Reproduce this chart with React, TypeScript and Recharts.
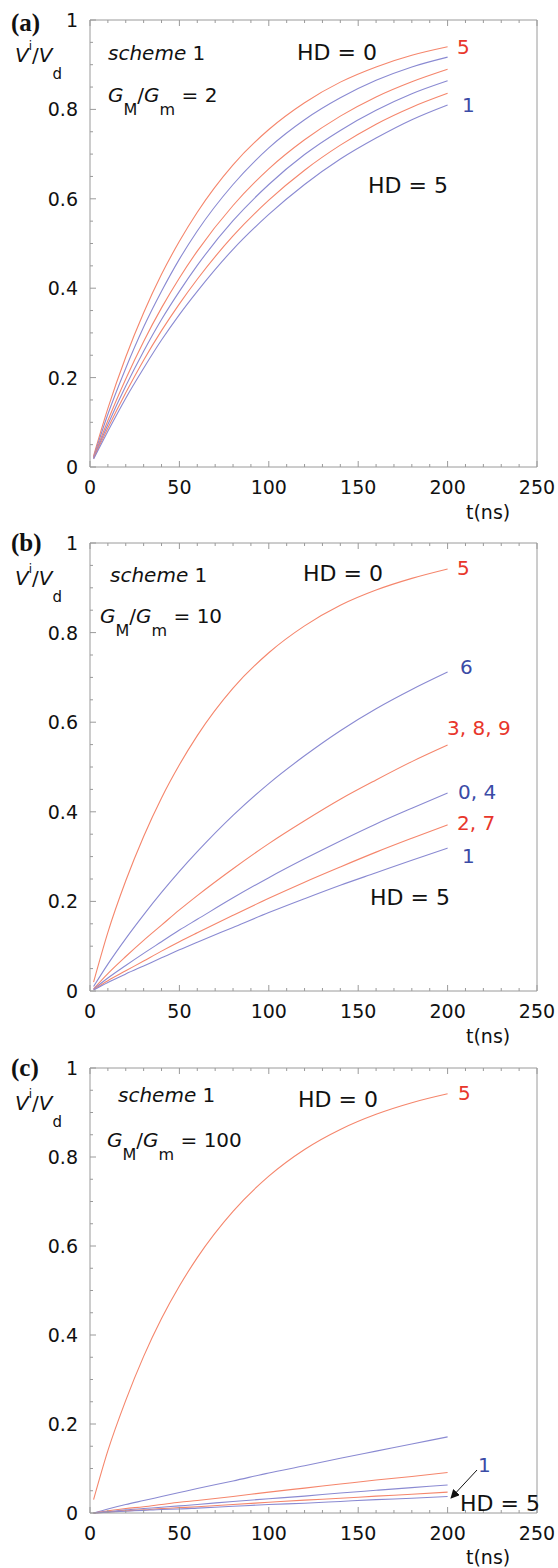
import React from "react";
import { LineChart, Line, XAxis, YAxis } from "recharts";

// time grid (ns) shared by every curve
const times = [2, 10, 20, 30, 40, 50, 60, 80, 100, 120, 140, 160, 180, 200];

const xTicks = [0, 10, 20, 30, 40, 50, 60, 70, 80, 90, 100, 110, 120, 130, 140, 150, 160, 170, 180, 190, 200, 210, 220, 230, 240, 250];
const yTicks = [0, 0.05, 0.1, 0.15, 0.2, 0.25, 0.3, 0.35, 0.4, 0.45, 0.5, 0.55, 0.6, 0.65, 0.7, 0.75, 0.8, 0.85, 0.9, 0.95, 1];
const yTickLabels: Record<string, string> = { "0": "0", "0.2": "0.2", "0.4": "0.4", "0.6": "0.6", "0.8": "0.8", "1": "1" };

// (a) GM/Gm = 2
const a1 = [0.025, 0.131, 0.246, 0.345, 0.431, 0.505, 0.57, 0.676, 0.755, 0.815, 0.861, 0.895, 0.921, 0.94];
const a2 = [0.022, 0.118, 0.221, 0.313, 0.393, 0.465, 0.528, 0.632, 0.714, 0.777, 0.826, 0.865, 0.895, 0.917];
const a3 = [0.021, 0.104, 0.197, 0.281, 0.356, 0.423, 0.483, 0.585, 0.667, 0.732, 0.785, 0.828, 0.862, 0.89];
const a4 = [0.02, 0.095, 0.181, 0.259, 0.33, 0.393, 0.451, 0.551, 0.632, 0.699, 0.753, 0.798, 0.835, 0.864];
const a5 = [0.019, 0.087, 0.166, 0.239, 0.305, 0.365, 0.42, 0.517, 0.597, 0.664, 0.72, 0.767, 0.805, 0.836];
const a6 = [0.018, 0.08, 0.154, 0.221, 0.284, 0.341, 0.393, 0.487, 0.565, 0.632, 0.689, 0.736, 0.777, 0.81];

// (b) GM/Gm = 10
const b5 = [0.02, 0.131, 0.246, 0.345, 0.431, 0.505, 0.57, 0.676, 0.755, 0.815, 0.861, 0.895, 0.921, 0.942];
const b6 = [0.01, 0.06, 0.117, 0.17, 0.22, 0.267, 0.311, 0.392, 0.463, 0.525, 0.581, 0.63, 0.673, 0.712];
const b389 = [0.005, 0.039, 0.077, 0.113, 0.147, 0.181, 0.213, 0.273, 0.329, 0.38, 0.428, 0.471, 0.512, 0.549];
const b04 = [0.004, 0.029, 0.057, 0.084, 0.11, 0.136, 0.16, 0.208, 0.253, 0.295, 0.335, 0.373, 0.408, 0.442];
const b27 = [0.003, 0.023, 0.045, 0.067, 0.089, 0.11, 0.13, 0.169, 0.207, 0.243, 0.277, 0.31, 0.341, 0.371];
const b1 = [0.002, 0.019, 0.038, 0.056, 0.074, 0.092, 0.109, 0.142, 0.175, 0.206, 0.236, 0.264, 0.292, 0.319];

// (c) GM/Gm = 100
const c1 = [0.03, 0.14, 0.253, 0.352, 0.437, 0.51, 0.574, 0.678, 0.757, 0.817, 0.862, 0.896, 0.922, 0.942];
const c2 = [0, 0.009, 0.019, 0.028, 0.037, 0.046, 0.055, 0.072, 0.09, 0.106, 0.123, 0.139, 0.155, 0.171];
const c3 = [0, 0.005, 0.01, 0.014, 0.019, 0.024, 0.028, 0.037, 0.047, 0.056, 0.065, 0.074, 0.082, 0.091];
const c4 = [0, 0.003, 0.007, 0.01, 0.013, 0.016, 0.019, 0.026, 0.032, 0.038, 0.045, 0.051, 0.057, 0.063];
const c5 = [0, 0.002, 0.005, 0.007, 0.01, 0.012, 0.014, 0.019, 0.024, 0.029, 0.033, 0.038, 0.042, 0.047];
const c6 = [0, 0.002, 0.004, 0.006, 0.008, 0.009, 0.011, 0.015, 0.019, 0.022, 0.026, 0.03, 0.033, 0.037];

const RED = "#f5866c";
const BLUE = "#8a8ad2";
const RED_TXT = "#e8362b";
const BLUE_TXT = "#3b4ba6";
const AXIS = "#9a9a9a";
const FONT = "'DejaVu Sans', 'Liberation Sans', Arial, sans-serif";

const isMajorY = (v: number) => Math.abs(v * 5 - Math.round(v * 5)) < 1e-6;
const yLabel = (v: number) => yTickLabels[String(Math.round(v * 5) / 5)];

function BottomTick(p: any) {
  const v = p.payload.value;
  const major = v % 50 === 0;
  return (
    <g>
      <line x1={p.x} x2={p.x} y1={p.y} y2={p.y - (major ? 6 : 3)} stroke={AXIS} />
      {major && (
        <text x={p.x} y={p.y + 27} textAnchor="middle" fontSize={19} fontFamily={FONT} fill="#111">
          {v}
        </text>
      )}
    </g>
  );
}

function TopTick(p: any) {
  const major = p.payload.value % 50 === 0;
  return <line x1={p.x} x2={p.x} y1={p.y} y2={p.y + (major ? 6 : 3)} stroke={AXIS} />;
}

function LeftTick(p: any) {
  const v = p.payload.value;
  const major = isMajorY(v);
  return (
    <g>
      <line x1={p.x} x2={p.x + (major ? 6 : 3)} y1={p.y} y2={p.y} stroke={AXIS} />
      {major && (
        <text x={p.x - 12} y={p.y + 7} textAnchor="end" fontSize={19} fontFamily={FONT} fill="#111">
          {yLabel(v)}
        </text>
      )}
    </g>
  );
}

function RightTick(p: any) {
  const major = isMajorY(p.payload.value);
  return <line x1={p.x} x2={p.x - (major ? 6 : 3)} y1={p.y} y2={p.y} stroke={AXIS} />;
}

type Series = { key: string; values: number[]; color: string };

function Panel({ plotTop, plotH, series }: { plotTop: number; plotH: number; series: Series[] }) {
  const data = times.map((t, i) => {
    const row: Record<string, number> = { t };
    series.forEach((s) => (row[s.key] = s.values[i]));
    return row;
  });
  return (
    <div style={{ position: "absolute", left: 0, top: plotTop - 20 }}>
      <LineChart width={558} height={plotH + 60} data={data} margin={{ top: 10, right: 11, bottom: 10, left: 50 }}>
        <XAxis
          xAxisId="b"
          dataKey="t"
          type="number"
          domain={[0, 250]}
          ticks={xTicks}
          interval={0}
          tickSize={0}
          tickMargin={0}
          height={30}
          axisLine={{ stroke: AXIS }}
          tickLine={false}
          tick={(p: any) => <BottomTick {...p} />}
        />
        <XAxis
          xAxisId="t"
          orientation="top"
          dataKey="t"
          type="number"
          domain={[0, 250]}
          ticks={xTicks}
          interval={0}
          tickSize={0}
          tickMargin={0}
          height={10}
          axisLine={{ stroke: AXIS }}
          tickLine={false}
          tick={(p: any) => <TopTick {...p} />}
        />
        <YAxis
          yAxisId="l"
          type="number"
          domain={[0, 1]}
          ticks={yTicks}
          interval={0}
          tickSize={0}
          tickMargin={0}
          width={40}
          axisLine={{ stroke: AXIS }}
          tickLine={false}
          tick={(p: any) => <LeftTick {...p} />}
        />
        <YAxis
          yAxisId="r"
          orientation="right"
          type="number"
          domain={[0, 1]}
          ticks={yTicks}
          interval={0}
          tickSize={0}
          tickMargin={0}
          width={10}
          axisLine={{ stroke: AXIS }}
          tickLine={false}
          tick={(p: any) => <RightTick {...p} />}
        />
        {series.map((s) => (
          <Line
            key={s.key}
            xAxisId="b"
            yAxisId="l"
            type="monotone"
            dataKey={s.key}
            stroke={s.color}
            strokeWidth={1.1}
            dot={false}
            isAnimationActive={false}
          />
        ))}
      </LineChart>
    </div>
  );
}

function Ratio({ x, y, rhs }: { x: number; y: number; rhs: string }) {
  return (
    <text x={x} y={y} fontSize={20} fontFamily={FONT} fill="#111">
      <tspan fontStyle="italic">G</tspan>
      <tspan dy={13} fontSize={16}>M</tspan>
      <tspan dy={-13}>/</tspan>
      <tspan fontStyle="italic">G</tspan>
      <tspan dy={13} fontSize={16}>m</tspan>
      <tspan dy={-13}>{" = " + rhs}</tspan>
    </text>
  );
}

function VLabel({ y }: { y: number }) {
  return (
    <text x={15} y={y} fontSize={20} fontFamily={FONT} fill="#111">
      <tspan fontStyle="italic">V</tspan>
      <tspan dy={-12} fontSize={12}>i</tspan>
      <tspan dy={12}>/</tspan>
      <tspan fontStyle="italic">V</tspan>
      <tspan dy={17} fontSize={15}>d</tspan>
    </text>
  );
}

function T({ x, y, s, color = "#111", size = 20 }: { x: number; y: number; s: string; color?: string; size?: number }) {
  return (
    <text x={x} y={y + size * 0.36} fontSize={size} fontFamily={FONT} fill={color}>
      {s}
    </text>
  );
}

function Scheme({ x, y }: { x: number; y: number }) {
  return (
    <text x={x} y={y + 7} fontSize={20} fontFamily={FONT} fill="#111">
      <tspan fontStyle="italic">scheme</tspan> 1
    </text>
  );
}

function Letter({ y, s }: { y: number; s: string }) {
  return (
    <text x={11} y={y + 8} fontSize={25} fontWeight="bold" fontFamily="'Liberation Serif', 'Times New Roman', serif" fill="#111">
      {s}
    </text>
  );
}

export default function App() {
  return (
    <div style={{ position: "absolute", left: 0, top: 0, width: 558, height: 1568, background: "#fff" }}>
      <Panel
        plotTop={20}
        plotH={447}
        series={[
          { key: "a1", values: a1, color: RED },
          { key: "a2", values: a2, color: BLUE },
          { key: "a3", values: a3, color: RED },
          { key: "a4", values: a4, color: BLUE },
          { key: "a5", values: a5, color: RED },
          { key: "a6", values: a6, color: BLUE },
        ]}
      />
      <Panel
        plotTop={543}
        plotH={448}
        series={[
          { key: "b5", values: b5, color: RED },
          { key: "b6", values: b6, color: BLUE },
          { key: "b389", values: b389, color: RED },
          { key: "b04", values: b04, color: BLUE },
          { key: "b27", values: b27, color: RED },
          { key: "b1", values: b1, color: BLUE },
        ]}
      />
      <Panel
        plotTop={1068}
        plotH={445}
        series={[
          { key: "c1", values: c1, color: RED },
          { key: "c2", values: c2, color: BLUE },
          { key: "c3", values: c3, color: RED },
          { key: "c4", values: c4, color: BLUE },
          { key: "c5", values: c5, color: RED },
          { key: "c6", values: c6, color: BLUE },
        ]}
      />
      <svg width={558} height={1568} style={{ position: "absolute", left: 0, top: 0, pointerEvents: "none" }}>
        <defs>
          <marker id="ah" viewBox="0 0 10 10" refX="9" refY="5" markerWidth="9" markerHeight="9" orient="auto">
            <path d="M0,0 L10,5 L0,10 z" fill="#111" />
          </marker>
        </defs>

        {/* (a) */}
        <Letter y={23} s="(a)" />
        <VLabel y={62} />
        <Scheme x={108} y={53} />
        <Ratio x={108} y={102} rhs="2" />
        <T x={297} y={52} s="HD = 0" size={22} />
        <T x={457} y={47} s="5" color={RED_TXT} />
        <T x={462} y={105} s="1" color={BLUE_TXT} />
        <T x={368} y={185} s="HD = 5" size={22} />
        <T x={466} y={512} s="t(ns)" size={19} />

        {/* (b) */}
        <Letter y={543} s="(b)" />
        <VLabel y={585} />
        <Scheme x={110} y={575} />
        <Ratio x={100} y={623} rhs="10" />
        <T x={303} y={573} s="HD = 0" size={22} />
        <T x={457} y={568} s="5" color={RED_TXT} />
        <T x={460} y={667} s="6" color={BLUE_TXT} />
        <T x={447} y={728} s="3, 8, 9" color={RED_TXT} />
        <T x={458} y={792} s="0, 4" color={BLUE_TXT} />
        <T x={457} y={823} s="2, 7" color={RED_TXT} />
        <T x={462} y={856} s="1" color={BLUE_TXT} />
        <T x={370} y={897} s="HD = 5" size={22} />
        <T x={466} y={1036} s="t(ns)" size={19} />

        {/* (c) */}
        <Letter y={1068} s="(c)" />
        <VLabel y={1110} />
        <Scheme x={118} y={1095} />
        <Ratio x={107} y={1147} rhs="100" />
        <T x={298} y={1099} s="HD = 0" size={22} />
        <T x={458} y={1093} s="5" color={RED_TXT} />
        <T x={478} y={1465} s="1" color={BLUE_TXT} />
        <line x1={477} y1={1470} x2={451} y2={1498} stroke="#111" strokeWidth={1} markerEnd="url(#ah)" />
        <T x={460} y={1503} s="HD = 5" size={22} />
        <T x={466} y={1557} s="t(ns)" size={19} />
      </svg>
    </div>
  );
}
